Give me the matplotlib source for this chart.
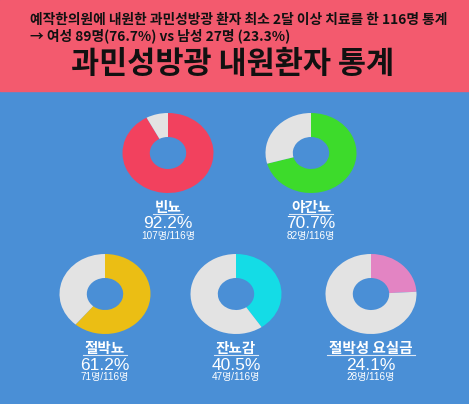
import matplotlib
matplotlib.use("Agg")
import matplotlib.pyplot as plt

plt.rcParams['font.family'] = ['Noto Sans CJK KR', 'DejaVu Sans']

labels = ["빈뇨", "야간뇨", "절박뇨", "잔뇨감", "절박성 요실금"]
percents = [92.2, 70.7, 61.2, 40.5, 24.1]
counts = [107, 82, 71, 47, 28]
total = 116
colors = ["#F2415E", "#3DDB2B", "#EBBE14", "#14DCE6", "#E384C3"]
gray = "#E3E3E3"
header_line1 = "예작한의원에 내원한 과민성방광 환자 최소 2달 이상 치료를 한 116명 통계"
header_line2 = "→ 여성 89명(76.7%) vs 남성 27명 (23.3%)"
title = "과민성방광 내원환자 통계"

W, H = 469, 404
fig = plt.figure(figsize=(W / 100, H / 100), dpi=100)
fig.patch.set_facecolor("#4A8FD6")
bg = fig.add_axes([0, 0, 1, 1])
bg.set_xlim(0, W)
bg.set_ylim(H, 0)
bg.axis("off")
bg.add_patch(plt.Rectangle((0, 0), W, 91, color="#F35A6E", zorder=0))

hfam = ['Noto Sans CJK KR', 'DejaVu Sans']
bg.text(30, 20, header_line1, fontsize=9.9, fontweight="bold", color="#111111",
        va="center", ha="left", family=hfam)
bg.text(30, 36, header_line2, fontsize=9.9, fontweight="bold", color="#111111",
        va="center", ha="left", family=hfam)
bg.text(233, 64, title, fontsize=22, fontweight="black", color="#111111",
        va="center", ha="center", family=hfam)

numfam = ['Liberation Sans', 'Noto Sans CJK KR']
centers = [(168, 153), (311, 153), (105, 294), (236, 294), (371, 294)]
dw, dh = 91, 80
for (cx, cy), lab, p, c, col in zip(centers, labels, percents, counts, colors):
    ax = fig.add_axes([(cx - dw / 2) / W, 1 - (cy + dh / 2) / H, dw / W, dh / H])
    ax.pie([p, 100 - p], colors=[col, gray], startangle=90, counterclock=False,
           wedgeprops=dict(width=0.6, linewidth=0))
    ax.set_aspect("auto")
    ax.set_xlim(-1, 1)
    ax.set_ylim(-1, 1)
    ax.axis("off")
    ly = cy + 54
    t = bg.text(cx, ly, lab, fontsize=10.5, fontweight="bold", color="white",
                ha="center", va="center")
    fig.canvas.draw()
    bb = t.get_window_extent()
    half = bb.width / 2 + 2
    bg.plot([cx - half, cx + half], [ly + 6.5, ly + 6.5], color="#DDE8F5", lw=0.8)
    bg.text(cx, ly + 17, f"{p}%", fontsize=12.5, color="white", ha="center",
            va="center", family=numfam)
    bg.text(cx, ly + 29, f"{c}명/{total}명", fontsize=7.2, color="white", ha="center",
            va="center", family=numfam)

fig.savefig("out.png", dpi=100, facecolor=fig.get_facecolor())
